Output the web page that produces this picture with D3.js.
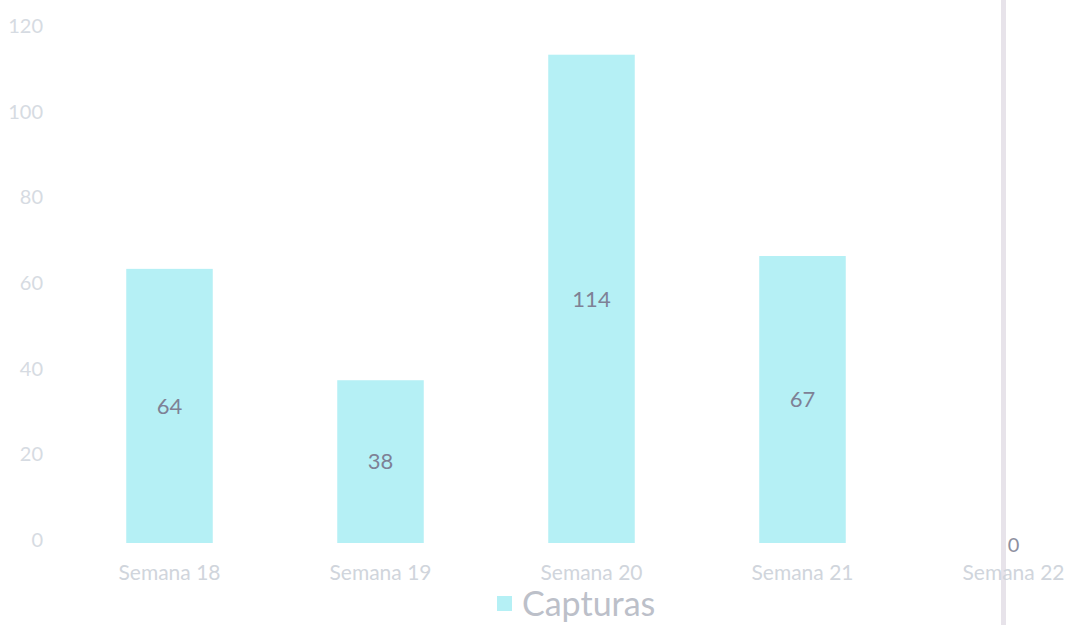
<!DOCTYPE html>
<html><head><meta charset="utf-8">
<script src="https://cdn.jsdelivr.net/npm/d3@7"></script>
<style>html,body{margin:0;padding:0;background:#fff;overflow:hidden}</style>
</head><body>
<svg id="chart" width="1068" height="625"></svg>
<script>
const categories = ["Semana 18", "Semana 19", "Semana 20", "Semana 21", "Semana 22"];
const capturas = [64, 38, 114, 67, 0];
const yTicks = [0, 20, 40, 60, 80, 100, 120];
const seriesName = "Capturas";

const svg = d3.select("#chart");
const font = "Lato, 'Open Sans', sans-serif";

const x = d3.scaleBand().domain(categories).range([64, 1119]).paddingInner(0.59).paddingOuter(0.295);
const y = d3.scaleLinear().domain([0, 120]).range([543, 29]);

// y axis labels
const yAxis = d3.axisLeft(y).tickValues(yTicks).tickSize(0).tickPadding(0);
const gy = svg.append("g").attr("transform", "translate(43,-3)").call(yAxis);
gy.select(".domain").remove();
gy.selectAll("text").attr("fill", "#d6dbe2").style("font-family", font).style("font-size", "20px");

// vertical edge line
svg.append("line").attr("x1", 1003.5).attr("x2", 1003.5).attr("y1", 0).attr("y2", 625)
  .attr("stroke", "#e7e3ea").attr("stroke-width", 5);

// bars
svg.selectAll("rect.bar").data(capturas).join("rect").attr("class", "bar")
  .attr("x", (d, i) => x(categories[i]))
  .attr("width", x.bandwidth())
  .attr("y", d => y(d))
  .attr("height", d => y(0) - y(d))
  .attr("fill", "#b5f0f5");

// value labels
svg.selectAll("text.val").data(capturas).join("text").attr("class", "val")
  .attr("x", (d, i) => x(categories[i]) + x.bandwidth() / 2)
  .attr("y", d => d > 0 ? (y(d) + y(0)) / 2 : y(0) + 2)
  .attr("dy", "0.35em")
  .attr("text-anchor", "middle")
  .attr("fill", d => d > 0 ? "#7e8195" : "#8e90a0")
  .style("font-family", font)
  .style("font-weight", 400)
  .style("font-size", d => d > 0 ? "22px" : "20px")
  .text(d => d);

// x axis labels
const xAxis = d3.axisBottom(x).tickSize(0).tickPadding(0);
const gx = svg.append("g").attr("transform", "translate(0,565)").call(xAxis);
gx.select(".domain").remove();
gx.selectAll("text").attr("fill", "#d0d5dc").attr("dy", "0.71em").style("font-family", font).style("font-size", "21px");

// legend
const lg = svg.append("g").attr("transform", "translate(497,596)");
lg.append("rect").attr("x", 0).attr("y", 0).attr("width", 15).attr("height", 15).attr("fill", "#b5f0f5");
lg.append("text").attr("x", 25).attr("y", 8).attr("dy", "0.35em")
  .attr("fill", "#bcc0c9").style("font-family", font).style("font-size", "34px").text(seriesName);
</script>
</body></html>
